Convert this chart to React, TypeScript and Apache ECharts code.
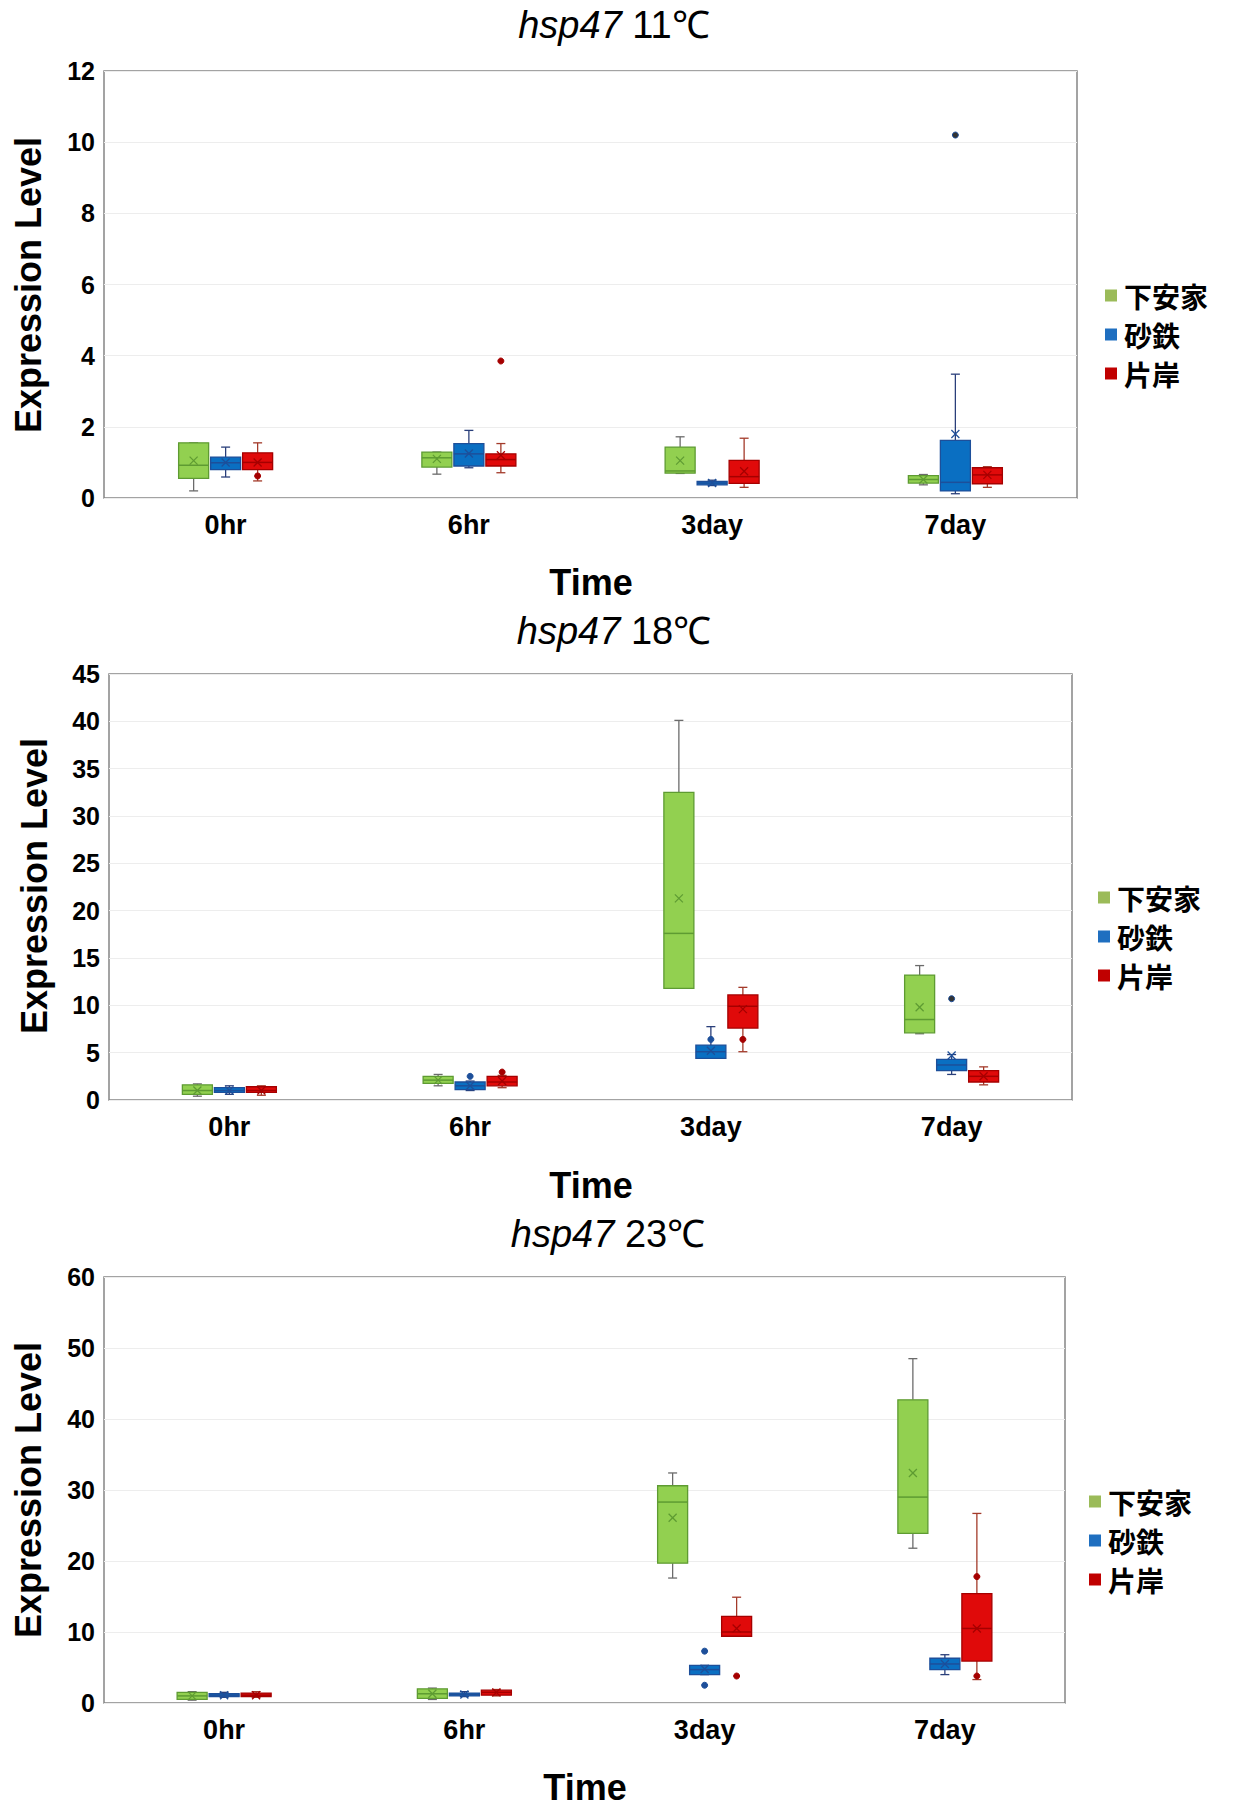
import React, { useEffect, useRef } from 'react';
import * as echarts from 'echarts';

const categories = ['0hr', '6hr', '3day', '7day'];
const seriesNames = ['下安家', '砂鉄', '片岸'];
const panelTemps = ['11℃', '18℃', '23℃'];
const yMaxes = [12, 45, 60];
const yIntervals = [2, 5, 10];

// [min, Q1, median, Q3, max] per category
const box11Green = [[0.2, 0.55, 0.92, 1.55, 1.55], [0.67, 0.87, 1.13, 1.29, 1.29], [0.69, 0.7, 0.76, 1.43, 1.72], [0.37, 0.42, 0.52, 0.63, 0.66]];
const box11Blue = [[0.59, 0.8, 0.99, 1.15, 1.43], [0.85, 0.9, 1.24, 1.53, 1.9], [0.35, 0.37, 0.42, 0.47, 0.5], [0.12, 0.2, 0.44, 1.62, 3.48]];
const box11Red = [[0.48, 0.8, 1.0, 1.27, 1.55], [0.71, 0.9, 1.08, 1.24, 1.53], [0.3, 0.41, 0.6, 1.06, 1.68], [0.3, 0.4, 0.65, 0.85, 0.88]];
const mean11Green = [1.05, 1.1, 1.05, 0.52];
const mean11Blue = [1.0, 1.25, 0.42, 1.8];
const mean11Red = [1.0, 1.2, 0.75, 0.65];
const out11Green: number[][] = [];
const out11Blue = [[3, 10.2]];
const out11Red = [[0, 0.62], [1, 3.85]];

const box18Green = [[0.4, 0.6, 1.0, 1.6, 1.7], [1.5, 1.75, 2.1, 2.5, 2.7], [11.8, 11.8, 17.6, 32.5, 40.1], [7.0, 7.1, 8.5, 13.2, 14.2]];
const box18Blue = [[0.6, 0.8, 1.0, 1.3, 1.5], [1.0, 1.1, 1.5, 1.9, 2.0], [4.4, 4.4, 5.1, 5.8, 7.75], [2.7, 3.1, 3.7, 4.3, 4.8]];
const box18Red = [[0.5, 0.8, 1.0, 1.4, 1.5], [1.3, 1.5, 1.9, 2.5, 2.6], [5.1, 7.6, 9.9, 11.1, 11.9], [1.6, 1.9, 2.5, 3.1, 3.5]];
const mean18Green = [1.0, 2.1, 21.3, 9.8];
const mean18Blue = [1.0, 1.5, 5.2, 4.7];
const mean18Red = [1.0, 2.0, 9.6, 2.5];
const out18Green: number[][] = [];
const out18Blue = [[1, 2.5], [2, 6.4], [3, 10.7]];
const out18Red = [[1, 2.95], [2, 6.4]];

const box23Green = [[0.4, 0.5, 1.0, 1.5, 1.6], [0.5, 0.65, 1.3, 2.0, 2.1], [17.6, 19.7, 28.3, 30.6, 32.4], [21.8, 23.9, 29.0, 42.7, 48.5]];
const box23Blue = [[0.8, 0.9, 1.1, 1.3, 1.5], [0.9, 1.0, 1.2, 1.4, 1.6], [4.0, 4.0, 4.7, 5.3, 5.3], [4.0, 4.7, 5.5, 6.3, 6.8]];
const box23Red = [[0.8, 0.9, 1.1, 1.4, 1.6], [1.0, 1.1, 1.5, 1.8, 1.9], [9.4, 9.4, 10.0, 12.2, 14.9], [3.3, 5.9, 10.5, 15.4, 26.7]];
const mean23Green = [1.0, 1.3, 26.1, 32.4];
const mean23Blue = [1.1, 1.2, 4.8, 5.5];
const mean23Red = [1.1, 1.5, 10.5, 10.5];
const out23Green: number[][] = [];
const out23Blue = [[2, 7.3], [2, 2.5]];
const out23Red = [[2, 3.8], [3, 17.8], [3, 3.8]];

const panelBoxes = [[box11Green, box11Blue, box11Red], [box18Green, box18Blue, box18Red], [box23Green, box23Blue, box23Red]];
const panelMeans = [[mean11Green, mean11Blue, mean11Red], [mean18Green, mean18Blue, mean18Red], [mean23Green, mean23Blue, mean23Red]];
const panelOutliers = [[out11Green, out11Blue, out11Red], [out18Green, out18Blue, out18Red], [out23Green, out23Blue, out23Red]];

const fills = ['#92D050', '#0A6FC2', '#E00A0A'];
const borders = ['#5E9B32', '#1D4F9A', '#A50000'];
const whiskers = ['#6B6B6B', '#2A3F7A', '#A33A2A'];
const legendColors = ['#9BBB59', '#1F6FC0', '#C00000'];

const grids = [
  { left: 104, top: 71, right: 156, height: 427 },
  { left: 109, top: 674, right: 161, height: 426 },
  { left: 104, top: 1277, right: 168, height: 426 },
];
const titlePos = [[614, 25], [614, 631], [608, 1234]];
const yNamePos = [[28, 285], [34, 886], [28, 1490]];
const timePos = [[591, 582], [591, 1185], [585, 1787]];
const legendPos = [[1100, 276], [1093, 878], [1084, 1482]];

const BOX_W = 30;
const BOX_STEP = 32;
const CAP_W = 9;
const FONT = 'Liberation Sans, Arial';

function makeRender(outliers: number[][], slot: number) {
  return (params: any, api: any) => {
    const ci = api.value(0);
    const cx = api.coord([ci, 0])[0] + (slot - 1) * BOX_STEP;
    const y = (v: number) => api.coord([ci, v])[1];
    const mn = y(api.value(1));
    const q1 = y(api.value(2));
    const md = y(api.value(3));
    const q3 = y(api.value(4));
    const mx = y(api.value(5));
    const mean = y(api.value(6));
    const wc = whiskers[slot];
    const children: any[] = [];
    const line = (x1: number, y1: number, x2: number, y2: number, stroke: string, lw = 1.3) =>
      children.push({ type: 'line', shape: { x1, y1, x2, y2 }, style: { stroke, lineWidth: lw } });
    line(cx, mx, cx, q3, wc);
    line(cx - CAP_W / 2, mx, cx + CAP_W / 2, mx, wc);
    line(cx, q1, cx, mn, wc);
    line(cx - CAP_W / 2, mn, cx + CAP_W / 2, mn, wc);
    children.push({
      type: 'rect',
      shape: { x: cx - BOX_W / 2, y: q3, width: BOX_W, height: Math.max(q1 - q3, 2) },
      style: { fill: fills[slot], stroke: borders[slot], lineWidth: 1.3 },
    });
    line(cx - BOX_W / 2, md, cx + BOX_W / 2, md, borders[slot], 1.5);
    const s = 4;
    line(cx - s, mean - s, cx + s, mean + s, borders[slot], 1.3);
    line(cx - s, mean + s, cx + s, mean - s, borders[slot], 1.3);
    outliers.forEach((o) => {
      if (o[0] === ci) {
        const oy = api.coord([ci, o[1]])[1];
        children.push({
          type: 'circle',
          shape: { cx, cy: oy, r: 3 },
          style: { fill: slot === 1 && o[1] > 9 ? '#333' : borders[slot], stroke: borders[slot], lineWidth: 1 },
        });
      }
    });
    return { type: 'group', children };
  };
}

export default function App() {
  const ref = useRef<HTMLDivElement>(null);
  useEffect(() => {
    document.body.style.margin = '0';
    document.body.style.overflow = 'hidden';
    const chart = echarts.init(ref.current!, null, { renderer: 'svg' });
    const xAxis: any[] = [];
    const yAxis: any[] = [];
    const series: any[] = [];
    const legend: any[] = [];
    const graphic: any[] = [];
    grids.forEach((g, p) => {
      xAxis.push({
        type: 'category',
        gridIndex: p,
        data: categories,
        boundaryGap: true,
        axisLine: { show: false },
        axisTick: { show: false },
        splitLine: { show: false },
        axisLabel: { color: '#000', fontSize: 27, fontWeight: 'bold', fontFamily: FONT, margin: 13 },
      });
      yAxis.push({
        type: 'value',
        gridIndex: p,
        min: 0,
        max: yMaxes[p],
        interval: yIntervals[p],
        axisLine: { show: false },
        axisTick: { show: false },
        axisLabel: { color: '#000', fontSize: 25, fontWeight: 'bold', fontFamily: FONT, margin: 9 },
        splitLine: { show: true, lineStyle: { color: '#EDEDED', width: 1 } },
      });
      seriesNames.forEach((name, s) => {
        const boxes = panelBoxes[p][s];
        const means = panelMeans[p][s];
        series.push({
          type: 'custom',
          name,
          xAxisIndex: p,
          yAxisIndex: p,
          itemStyle: { color: legendColors[s] },
          encode: { x: 0, y: [1, 2, 3, 4, 5] },
          data: categories.map((c, i) => [i, ...boxes[i], means[i]]),
          renderItem: makeRender(panelOutliers[p][s], s),
        });
      });
      legend.push({
        orient: 'vertical',
        left: legendPos[p][0],
        top: legendPos[p][1],
        icon: 'rect',
        itemWidth: 12,
        itemHeight: 12,
        itemGap: 10,
        selectedMode: false,
        data: seriesNames.map((n, s) => ({ name: n, itemStyle: { color: legendColors[s] } })),
        textStyle: { fontSize: 28, fontWeight: 'bold', color: '#000', fontFamily: 'Noto Sans CJK JP', lineHeight: 29, padding: [0, 0, 0, 2] },
      });
      graphic.push({
        type: 'text',
        x: titlePos[p][0],
        y: titlePos[p][1],
        style: {
          text: '{i|hsp47}{n| ' + panelTemps[p] + '}',
          align: 'center',
          verticalAlign: 'middle',
          rich: {
            i: { fontSize: 38, fontStyle: 'italic', fontFamily: FONT, fill: '#000' },
            n: { fontSize: 38, fontFamily: FONT, fill: '#000' },
          },
        },
      });
      graphic.push({
        type: 'text',
        x: yNamePos[p][0],
        y: yNamePos[p][1],
        rotation: Math.PI / 2,
        style: {
          text: 'Expression Level',
          align: 'center',
          verticalAlign: 'middle',
          fontSize: 36,
          fontWeight: 'bold',
          fontFamily: FONT,
          fill: '#000',
        },
      });
      graphic.push({
        type: 'text',
        x: timePos[p][0],
        y: timePos[p][1],
        style: {
          text: 'Time',
          align: 'center',
          verticalAlign: 'middle',
          fontSize: 36,
          fontWeight: 'bold',
          fontFamily: FONT,
          fill: '#000',
        },
      });
    });
    chart.setOption({
      animation: false,
      backgroundColor: '#fff',
      grid: grids.map((g) => ({ ...g, show: true, borderColor: '#858585', borderWidth: 1.5, backgroundColor: 'transparent' })),
      xAxis,
      yAxis,
      legend,
      series,
      graphic,
    });
    return () => chart.dispose();
  }, []);
  return <div ref={ref} style={{ width: 1233, height: 1807 }} />;
}
